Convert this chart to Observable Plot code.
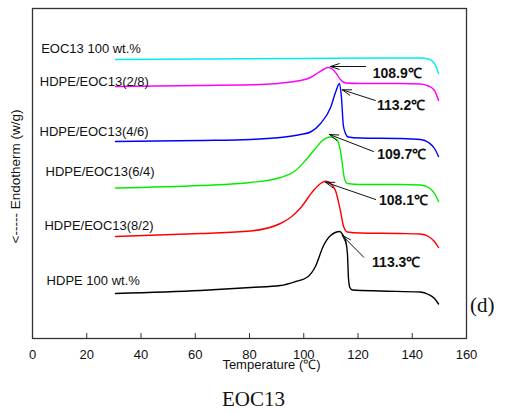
<!DOCTYPE html>
<html><head><meta charset="utf-8">
<script src="https://cdn.jsdelivr.net/npm/d3@7"></script>
<script src="https://cdn.jsdelivr.net/npm/@observablehq/plot@0.6"></script>
<style>
body{margin:0;background:#fff;}
#caption{font-family:"Liberation Serif","Times New Roman",serif;font-size:21px;text-align:center;width:507px;margin-top:2px;color:#111;}
</style>
</head><body>
<div id="chart"></div>
<div id="caption">EOC13</div>
<script>
// Temperature (°C) and heat-flow (arbitrary units, offset curves)
const tEOC   = [30.6, 61.9, 100, 130, 143, 146, 148.2, 149.7];
const hEOC   = [279, 279.5, 280, 280.5, 280.5, 279.5, 275, 265];
const t28    = [30.6, 61.9, 84.1, 95.1, 98.8, 102.5, 105.4, 107.5, 108.9, 110.5, 112, 113.5, 115.4, 120.9, 135.7, 143, 146, 148.2, 149.7];
const h28    = [252, 253, 254, 256.5, 258, 261, 266, 269.5, 271, 269.5, 265, 259, 255.5, 255, 255, 254.5, 252.5, 248, 238];
const t46    = [30.6, 61.9, 80.4, 91.4, 98.8, 102.5, 106.2, 109.9, 111.7, 113.2, 113.9, 114.6, 115.4, 116.3, 120.9, 135.7, 143, 146, 148.2, 149.7];
const h46    = [197, 198, 199, 201, 204, 206.5, 215, 231, 246, 255, 241, 213, 205, 201.5, 200.5, 200, 199, 196, 190, 182];
const t64    = [30.6, 61.9, 80.4, 91.4, 97.0, 100.6, 104.3, 106.9, 109.7, 112.1, 113.5, 114.3, 115.0, 116.1, 120.9, 135.7, 143, 146, 148.2, 149.7];
const h64    = [150.5, 153, 156, 161, 168, 178, 190, 198, 201.5, 199, 188, 173, 160, 155, 154, 154, 153.5, 151, 145, 137];
const t82    = [30.6, 61.9, 80.4, 91.4, 95.1, 98.8, 103.6, 106.2, 108.1, 109.9, 111.7, 113.5, 114.7, 116.1, 120.9, 135.7, 143, 146, 148.2, 149.7];
const h82    = [102, 105, 107.5, 115, 121, 130.5, 148, 155, 157.3, 155, 148, 128, 112, 106.5, 105.5, 105, 104.5, 102, 97, 91];
const tHDPE  = [30.6, 61.9, 80.4, 91.4, 97.0, 101.4, 104.3, 107.3, 109.9, 113.3, 114.3, 115.4, 116.1, 116.5, 117.0, 117.9, 128.3, 143, 146, 148.2, 149.7];
const hHDPE  = [45, 48, 51, 53, 57, 61.5, 72, 93, 103, 107, 104, 98, 85, 60, 51, 48.5, 47.5, 46.5, 44, 40, 34.5];

const seriesNames  = ["EOC13 100 wt.%", "HDPE/EOC13(2/8)", "HDPE/EOC13(4/6)", "HDPE/EOC13(6/4)", "HDPE/EOC13(8/2)", "HDPE 100 wt.%"];
const seriesColors = ["#00eeee", "#ff00ff", "#0000ff", "#00ee00", "#ff0000", "#000000"];
const seriesT = [tEOC, t28, t46, t64, t82, tHDPE];
const seriesH = [hEOC, h28, h46, h64, h82, hHDPE];
// label anchor (left edge) positions in data units
const labelT = [3.2, 2.7, 2.6, 4.8, 4.4, 5.2];
const labelH = [290, 257, 206.5, 166.5, 112.5, 58];

// peak annotations
const peakText  = ["108.9℃", "113.2℃", "109.7℃", "108.1℃", "113.3℃"];
const peakTextT = [125.4, 127.0, 127.1, 127.7, 125.2];
const peakTextH = [264.7, 233, 184, 138, 76.3];
const arrowT1 = [122.8, 126.4, 125.7, 126.5, 122.1];
const arrowH1 = [272, 238, 187, 139, 81.3];
const arrowT2 = [109.8, 114.2, 109.5, 108.0, 114.2];
const arrowH2 = [272, 248.7, 204, 156.3, 103];

const xTicks = [0, 20, 40, 60, 80, 100, 120, 140, 160];

const rows = [];
seriesNames.forEach((name, i) => {
  seriesT[i].forEach((t, j) => rows.push({name, t, h: seriesH[i][j]}));
});
const labels = seriesNames.map((name, i) => ({name, t: labelT[i], h: labelH[i]}));
const peaks = peakText.map((s, i) => ({s, t: peakTextT[i], h: peakTextH[i], t1: arrowT1[i], h1: arrowH1[i], t2: arrowT2[i], h2: arrowH2[i]}));

const chart = Plot.plot({
  width: 507,
  height: 385,
  marginTop: 8,
  marginBottom: 47,
  marginLeft: 32,
  marginRight: 41,
  style: {fontFamily: "'Liberation Sans', Arial, sans-serif", fontSize: "13px", background: "#fff", display: "block", color: "#111"},
  x: {domain: [0, 160]},
  y: {domain: [0, 330], axis: null},
  color: {domain: seriesNames, range: seriesColors},
  marks: [
    Plot.frame({stroke: "#333", strokeWidth: 1.3}),
    Plot.axisX({ticks: xTicks, tickSize: 0, tickPadding: 11, label: null, fontSize: 13}),
    Plot.ruleX(xTicks.slice(1, -1), {x: d => d, y1: 0, y2: 5, stroke: "#333"}),
    Plot.line(rows, {x: "t", y: "h", z: "name", stroke: "name", strokeWidth: 1.4, curve: "monotone-x"}),
    Plot.text(labels, {x: "t", y: "h", text: "name", textAnchor: "start", fontSize: 13, fill: "#111"}),
    Plot.arrow(peaks, {x1: "t1", y1: "h1", x2: "t2", y2: "h2", stroke: "#111", strokeWidth: 1, headLength: 14, headAngle: 36}),
    Plot.text(peaks, {x: "t", y: "h", text: "s", textAnchor: "start", fontSize: 14, fontWeight: "bold", fill: "#111"}),
    Plot.text(["Temperature (℃)"], {frameAnchor: "bottom", dx: 22, dy: 30, fontSize: 13, fill: "#111"}),
    Plot.text(["<----- Endotherm (w/g)"], {frameAnchor: "left", textAnchor: "middle", rotate: -90, dx: -17, dy: 3, fontSize: 13.5, fill: "#111"}),
    Plot.text(["(d)"], {frameAnchor: "bottom-right", dx: 28, dy: -27, fontSize: 21, fontFamily: "'Liberation Serif', 'Times New Roman', serif", fill: "#111"})
  ]
});
document.getElementById("chart").appendChild(chart);
</script>
</body></html>
